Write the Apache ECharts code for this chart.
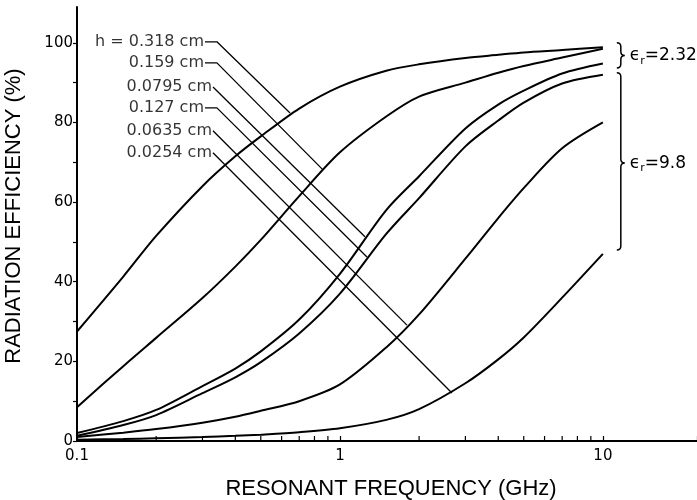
<!DOCTYPE html>
<html><head><meta charset="utf-8">
<script src="https://cdn.jsdelivr.net/npm/echarts@6/dist/echarts.min.js"></script>
<style>html,body{margin:0;padding:0;background:#fff}#c{width:697px;height:500px}</style>
</head><body><div id="c"></div>
<script>
// ---- data ----
const freqs = [0.1, 0.15, 0.2, 0.3, 0.4, 0.5, 0.7, 1, 1.5, 2, 3, 4, 5, 7, 10];
const effH0318Er232  = [27.5, 41.3, 51.5, 64, 71.5, 76.5, 83.5, 89, 93, 94.6, 96.2, 97, 97.6, 98.2, 98.9];
const effH0159Er232  = [8.5, 18.8, 25.9, 35.9, 43.8, 50.5, 61.5, 72.5, 81.5, 86.5, 90, 92.5, 94.2, 96.3, 98.5];
const effH00795Er232 = [2, 5, 7.8, 13.8, 18.2, 22.5, 30.5, 42, 58, 66.5, 78.5, 84.5, 88, 92.3, 94.8];
const effH0127Er98   = [1.3, 4, 6.5, 12, 16, 19.8, 27, 37, 52, 61, 74, 80.5, 85, 89.8, 92];
const effH00635Er98  = [1, 2.1, 3, 4.6, 6.1, 7.6, 10, 14.2, 23.5, 31.8, 45.8, 56, 63.5, 73.5, 80];
const effH00254Er98  = [0.3, 0.5, 0.7, 1, 1.3, 1.6, 2.2, 3.2, 5.3, 8, 14.5, 20.5, 26, 36, 47];
const curves = [effH0318Er232, effH0159Er232, effH00795Er232, effH0127Er98, effH00635Er98, effH00254Er98];

// leader annotations (data coordinates: frequency GHz, efficiency %)
const leaderLabels = ['h = 0.318 cm', '0.159 cm', '0.0795 cm', '0.127 cm', '0.0635 cm', '0.0254 cm'];
const leaderTextF  = [0.3067, 0.3067, 0.329, 0.3067, 0.329, 0.329];
const leaderTextV  = [100.25, 94.97, 88.9, 83.67, 77.9, 72.4];
const leaderBendF  = [0.3405, 0.3405, null, 0.3405, null, null];
const leaderEndF   = [0.646, 0.862, 1.245, 1.267, 1.798, 2.666];
const leaderEndV   = [82.4, 68.1, 51.3, 46.2, 29.1, 12.06];

// permittivity groups (brace extents in %)
const braceLabels = ['2.32', '9.8'];
const braceTop    = [100, 92.5];
const braceBottom = [93.7, 48];
const braceTip    = [96.8, 69.8];
const braceFreq   = 11.7;

// axis ticks
const xMajorLabels = [0.1, 1, 10];
const xMinorTicks = [0.2,0.3,0.4,0.5,0.6,0.7,0.8,0.9,2,3,4,5,6,7,8,9];
const yTicks = [0,10,20,30,40,50,60,70,80,90,100];
const yLabels = [0,20,40,60,80,100];

// ---- chart ----
const chart = echarts.init(document.getElementById('c'), null, {renderer:'canvas'});
const BLACK = '#000';
const series = [];
curves.forEach(function (vals) {
  series.push({
    type: 'line', smooth: 0.3, symbol: 'none', silent: true,
    lineStyle: {color: BLACK, width: 2},
    data: freqs.map(function (f, i) { return [f, vals[i]]; })
  });
});
leaderLabels.forEach(function (t, i) {
  const pts = [[leaderTextF[i], leaderTextV[i]]];
  if (leaderBendF[i] !== null) pts.push([leaderBendF[i], leaderTextV[i]]);
  pts.push([leaderEndF[i], leaderEndV[i]]);
  series.push({
    type: 'line', symbol: 'none', silent: true,
    lineStyle: {color: BLACK, width: 1.3},
    data: pts
  });
});
series.push({
  type: 'scatter', symbolSize: 0, silent: true,
  data: leaderLabels.map(function (t, i) { return [leaderTextF[i], leaderTextV[i]]; }),
  label: {
    show: true, position: 'left', distance: 1,
    formatter: function (p) { return leaderLabels[p.dataIndex]; },
    fontFamily: 'DejaVu Sans', fontSize: 16, color: BLACK
  }
});
series.push({
  type: 'custom', silent: true, clip: false,
  data: xMinorTicks.map(function (v) { return [v, 0]; }),
  renderItem: function (params, api) {
    const p = api.coord([api.value(0), 0]);
    return {type: 'line', shape: {x1: p[0], y1: p[1], x2: p[0], y2: p[1] - 5},
            style: {stroke: BLACK, lineWidth: 1.2}};
  }
});
series.push({
  type: 'custom', silent: true, clip: false,
  data: braceLabels.map(function (l, i) { return [braceFreq, braceTop[i], braceBottom[i], braceTip[i]]; }),
  renderItem: function (params, api) {
    const top = api.coord([api.value(0), api.value(1)]);
    const bot = api.coord([api.value(0), api.value(2)]);
    const tip = api.coord([api.value(0), api.value(3)]);
    const x = top[0], w = 4;
    const d = 'M' + (x - w) + ' ' + top[1] + ' Q' + x + ' ' + top[1] + ' ' + x + ' ' + (top[1] + w) +
      ' L' + x + ' ' + (tip[1] - w) + ' Q' + x + ' ' + tip[1] + ' ' + (x + w) + ' ' + tip[1] +
      ' Q' + x + ' ' + tip[1] + ' ' + x + ' ' + (tip[1] + w) +
      ' L' + x + ' ' + (bot[1] - w) + ' Q' + x + ' ' + bot[1] + ' ' + (x - w) + ' ' + bot[1];
    return {type: 'group', children: [
      {type: 'path', shape: {pathData: d}, style: {fill: 'none', stroke: BLACK, lineWidth: 1.5}},
      {type: 'text', x: x + 9, y: tip[1], style: {
        text: '{e|ϵ}{s|r}{t|=' + braceLabels[params.dataIndex] + '}',
        align: 'left', verticalAlign: 'middle', fill: BLACK,
        rich: {
          e: {fontFamily: 'DejaVu Sans', fontSize: 17, lineHeight: 22, fill: BLACK},
          s: {fontFamily: 'DejaVu Sans', fontSize: 11, lineHeight: 22, verticalAlign: 'bottom', fill: BLACK},
          t: {fontFamily: 'DejaVu Sans', fontSize: 17, lineHeight: 22, fill: BLACK}
        }
      }}
    ]};
  }
});

chart.setOption({
  animation: false,
  backgroundColor: '#fff',
  grid: {left: 77, right: 0, top: 7, bottom: 59, containLabel: false, outerBoundsMode: 'none'},
  xAxis: {
    type: 'log', logBase: 10, min: 0.1, max: 22.8,
    name: 'RESONANT FREQUENCY (GHz)', nameLocation: 'middle', nameGap: 37,
    nameTextStyle: {fontFamily: 'Liberation Sans', fontSize: 22, color: BLACK, padding: [0, 0, 0, 8]},
    axisLine: {show: true, onZero: false, lineStyle: {color: BLACK, width: 2}},
    axisTick: {show: true, inside: true, length: 5, lineStyle: {color: BLACK, width: 1.2}},
    minorTick: {show: false},
    splitLine: {show: false},
    axisLabel: {
      margin: 8, fontFamily: 'DejaVu Sans', fontSize: 15, color: BLACK,
      formatter: function (v) {
        for (const m of xMajorLabels) { if (Math.abs(v - m) < m * 1e-6) return String(m); }
        return '';
      }
    }
  },
  yAxis: {
    type: 'value', min: 0, max: 109, interval: 10,
    name: 'RADIATION EFFICIENCY (%)', nameLocation: 'middle', nameGap: 52,
    nameTextStyle: {fontFamily: 'Liberation Sans', fontSize: 22, color: BLACK, padding: [0, 0, 0, 16]},
    axisLine: {show: true, onZero: false, lineStyle: {color: BLACK, width: 2}},
    axisTick: {show: true, inside: false, length: 4, customValues: yTicks, lineStyle: {color: BLACK, width: 1.2}},
    splitLine: {show: false},
    axisLabel: {
      margin: 4, fontFamily: 'DejaVu Sans', fontSize: 15, color: BLACK, customValues: yLabels,
      formatter: function (v) { return yLabels.indexOf(v) >= 0 ? String(v) : ''; }
    }
  },
  series: series
});
</script></body></html>
